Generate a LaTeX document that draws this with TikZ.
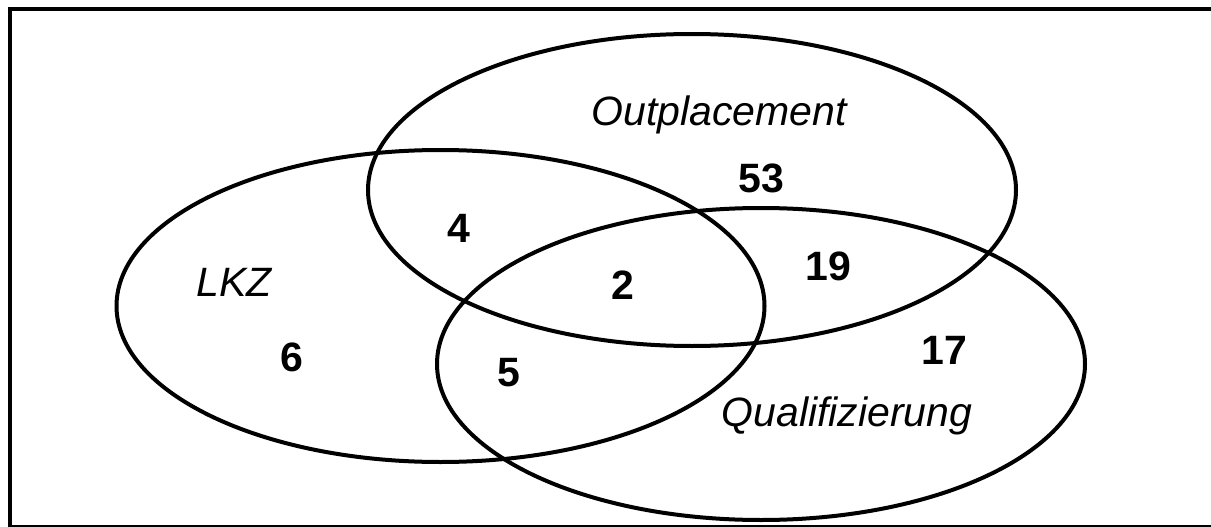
\documentclass[tikz,border=0pt]{standalone}
\usepackage{fontspec}
\setmainfont{Liberation Sans}
\usetikzlibrary{shapes.geometric}
\tikzset{
  venn/.style={ellipse, draw, line width=4pt, inner sep=0pt, minimum width=648pt, minimum height=312pt},
  lbl/.style={font=\fontsize{41}{49}\selectfont\itshape, inner sep=0pt, anchor=base},
  num/.style={font=\fontsize{41}{49}\selectfont\bfseries, inner sep=0pt}
}
\begin{document}
\begin{tikzpicture}[x=1pt,y=-1pt]
\useasboundingbox (0,0) rectangle (1211,527);
\fill[white] (0,0) rectangle (1211,527);
\draw[line width=4pt] (1215,9) -- (10,9) -- (10,530);
\draw[line width=1.5pt] (10,526) -- (1215,526);
\node[venn] (lkz) at (440.5,306) {};
\node[venn] (out) at (692,190) {};
\node[venn] (qual) at (761,364) {};
\node[lbl] (tout) at (719,125) {Outplacement};
\node[lbl] (tlkz) at (234,296) {LKZ};
\node[lbl] (tqual) at (847,426) {Qualifizierung};
\node[num] (n53) at (761,178) {53};
\node[num] (n4) at (459,228) {4};
\node[num] (n19) at (828,266) {19};
\node[num] (n2) at (623,285) {2};
\node[num] (n6) at (292,357) {6};
\node[num] (n5) at (509,373) {5};
\node[num] (n17) at (944,350) {17};
\end{tikzpicture}
\end{document}
